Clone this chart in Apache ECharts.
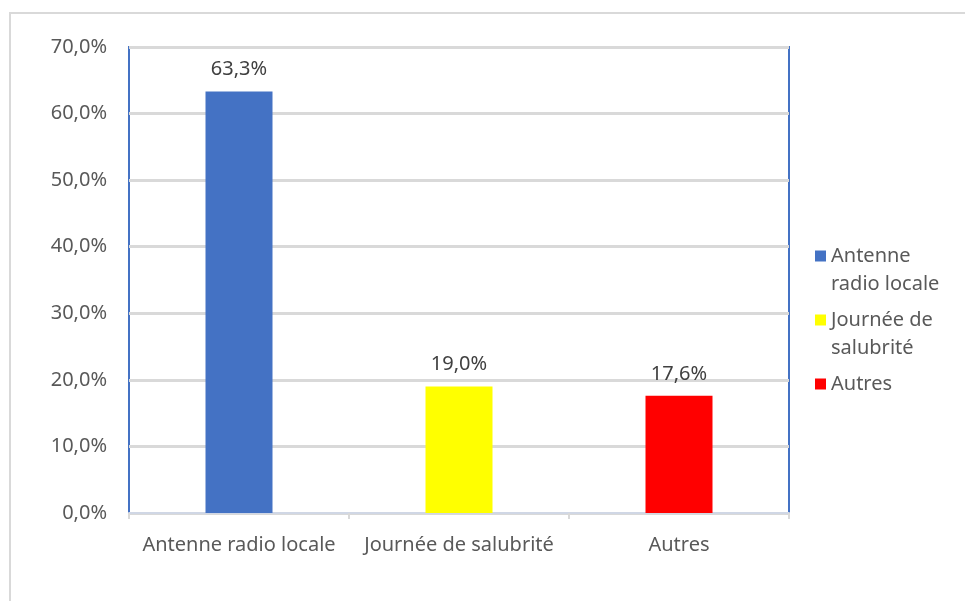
<!DOCTYPE html>
<html lang="fr">
<head>
    <meta charset="UTF-8">
    <title>Répartition</title>
    <script src="https://cdn.jsdelivr.net/npm/echarts@6/dist/echarts.min.js"></script>
    <style>
        body { margin: 0; background: #fff; }
    </style>
</head>
<body>
<div id="main" style="width: 965px; height: 601px;"></div>
<script>
    var categories = ['Antenne radio locale', 'Journée de salubrité', 'Autres'];
    var values = [63.3, 19.0, 17.6];
    var colors = ['#4472c4', '#ffff00', '#ff0000'];
    // legend labels are wrapped like in the original (blank lines keep the square on the first line)
    var legendLabels = ['\u00a0\nAntenne\nradio locale', '\u00a0\nJournée de\nsalubrité', '\u00a0\nAutres\n\u00a0'];
    var yTicks = [0, 10, 20, 30, 40, 50, 60, 70];

    function pct(v) {
        return v.toFixed(1).replace('.', ',') + '%';
    }

    var font = '"Noto Sans", sans-serif';
    var fs = 20;

    var series = [];
    for (var i = 0; i < categories.length; i++) {
        var d = categories.map(function (c, j) { return j === i ? values[i] : '-'; });
        series.push({
            name: categories[i],
            type: 'bar',
            data: d,
            barWidth: 67,
            barGap: '-100%',
            itemStyle: { color: colors[i] },
            label: {
                show: true,
                position: 'top',
                distance: 12,
                color: '#404040',
                fontSize: fs,
                fontFamily: font,
                formatter: function (p) { return pct(p.value); }
            }
        });
    }

    var myChart = echarts.init(document.getElementById('main'));
    var option = {
        animation: false,
        textStyle: { fontFamily: font },
        graphic: [{
            type: 'rect',
            shape: { x: 10, y: 13, width: 1000, height: 700 },
            style: { fill: 'none', stroke: '#d9d9d9', lineWidth: 2 },
            silent: true
        }],
        grid: {
            left: 129,
            right: 176,
            top: 47,
            bottom: 88,
            show: true,
            borderColor: '#4472c4',
            borderWidth: 2
        },
        legend: {
            orient: 'vertical',
            left: 815,
            top: 214,
            padding: 0,
            itemWidth: 11,
            itemHeight: 11,
            itemGap: -20,
            icon: 'rect',
            data: categories,
            formatter: function (name) {
                return legendLabels[categories.indexOf(name)];
            },
            textStyle: {
                color: '#595959',
                fontSize: fs,
                fontFamily: font,
                lineHeight: 28
            }
        },
        xAxis: {
            type: 'category',
            data: categories,
            axisLine: { lineStyle: { color: '#d0d7e5', width: 2 } },
            axisTick: { show: true, length: 6, lineStyle: { color: '#d9d9d9', width: 2 } },
            axisLabel: {
                interval: 0,
                hideOverlap: false,
                color: '#595959',
                fontSize: fs,
                fontFamily: font,
                margin: 22
            }
        },
        yAxis: {
            type: 'value',
            min: yTicks[0],
            max: yTicks[yTicks.length - 1],
            interval: 10,
            axisLine: { show: false },
            axisTick: { show: false },
            splitLine: { lineStyle: { color: '#d9d9d9', width: 3 } },
            axisLabel: {
                color: '#595959',
                fontSize: fs,
                fontFamily: font,
                margin: 22,
                formatter: function (v) { return pct(v); }
            }
        },
        series: series
    };
    myChart.setOption(option);
</script>
</body>
</html>
